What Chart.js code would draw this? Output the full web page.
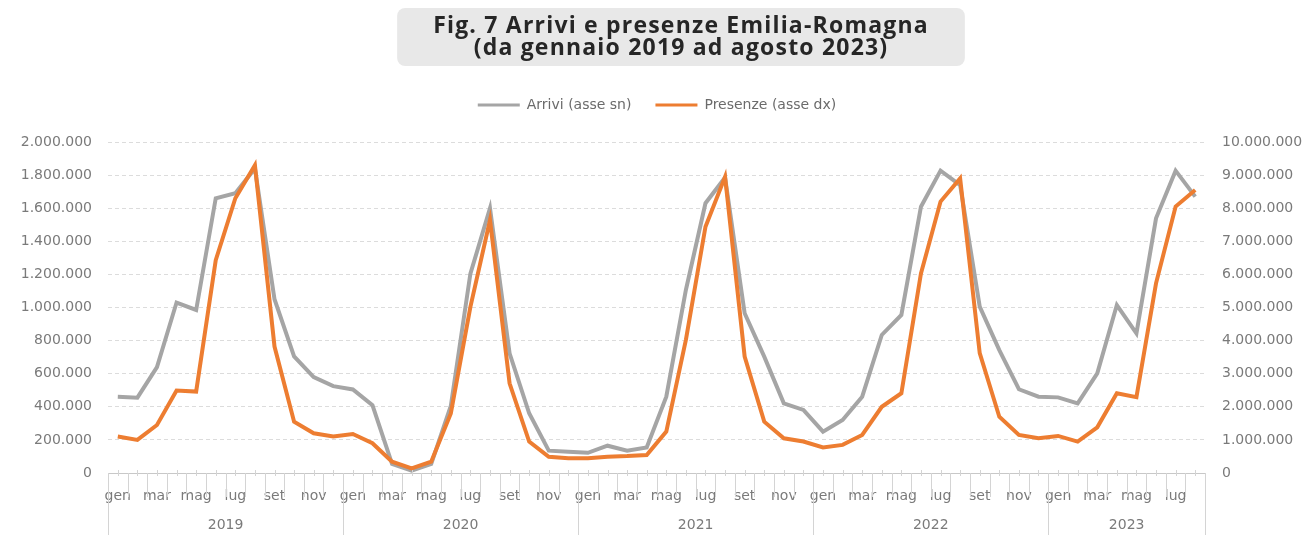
<!DOCTYPE html>
<html lang="it">
<head>
<meta charset="utf-8">
<title>Arrivi e presenze Emilia-Romagna</title>
<script src="https://cdn.jsdelivr.net/npm/chart.js@4/dist/chart.umd.min.js"></script>
<style>
  body { margin: 0; background: #fff; }
  #wrap { width: 1314px; height: 535px; position: relative; }
</style>
</head>
<body>
<div id="wrap"><canvas id="grafico"></canvas></div>
<script>
// dati (gen 2019 - ago 2023)
const titolo = ['Fig. 7 Arrivi e presenze Emilia-Romagna', '(da gennaio 2019 ad agosto 2023)'];
const mesi = ['gen', 'feb', 'mar', 'apr', 'mag', 'giu', 'lug', 'ago', 'set', 'ott', 'nov', 'dic'];
const anni = ['2019', '2020', '2021', '2022', '2023'];
const mesiPerAnno = [12, 12, 12, 12, 8];

const arrivi = [
  460000, 455000, 640000, 1030000, 985000, 1660000, 1690000, 1840000, 1050000, 705000, 580000, 525000,
  505000, 410000, 55000, 15000, 55000, 405000, 1205000, 1600000, 723000, 361000, 135000, 129000,
  122000, 165000, 135000, 155000, 461000, 1106000, 1630000, 1785000, 965000, 703000, 421000, 381000,
  250000, 320000, 461000, 834000, 955000, 1609000, 1827000, 1740000, 1005000, 743000, 506000, 461000,
  457000, 421000, 602000, 1015000, 844000, 1539000, 1827000, 1670000
];
const presenze = [
  1100000, 1000000, 1450000, 2490000, 2460000, 6430000, 8300000, 9300000, 3820000, 1550000, 1200000, 1100000,
  1180000, 900000, 340000, 140000, 340000, 1800000, 5020000, 7640000, 2710000, 950000, 490000, 445000,
  445000, 490000, 510000, 545000, 1250000, 4020000, 7440000, 8950000, 3520000, 1550000, 1050000, 950000,
  770000, 850000, 1150000, 2000000, 2410000, 6030000, 8200000, 8900000, 3620000, 1700000, 1150000, 1050000,
  1120000, 950000, 1380000, 2410000, 2290000, 5730000, 8050000, 8550000
];

const etichette = [];
mesiPerAnno.forEach(n => {
  for (let i = 0; i < n; i++) etichette.push(mesi[i]);
});

const fmt = v => String(v).replace(/\B(?=(\d{3})+(?!\d))/g, '.');

const FONT = 'DejaVu Sans';
const GRIGIO_TESTO = '#7a7a7a';

// titolo su due righe dentro al box grigio
const boxTitolo = {
  id: 'boxTitolo',
  afterLayout(chart) {
    // la legenda sta un po' più in alto rispetto all'area del grafico
    chart.legend.top -= 20;
    chart.legend.bottom -= 20;
  },
  beforeDraw(chart) {
    const ctx = chart.ctx;
    ctx.save();
    ctx.font = 'bold 23px "Open Sans"';
    ctx.letterSpacing = '1.2px';
    const w = Math.max(...titolo.map(t => ctx.measureText(t).width));
    const cx = chart.width / 2 + 24;
    ctx.fillStyle = '#e8e8e8';
    ctx.beginPath();
    ctx.roundRect(cx - w / 2 - 36, 8, w + 72, 58, 8);
    ctx.fill();
    ctx.fillStyle = '#262626';
    ctx.textAlign = 'center';
    ctx.textBaseline = 'middle';
    titolo.forEach((t, k) => ctx.fillText(t, cx, 26 + k * 22));
    ctx.restore();
  }
};

// asse categorie a due livelli (mesi / anni)
const asseAnni = {
  id: 'asseAnni',
  afterDraw(chart) {
    const ctx = chart.ctx;
    const area = chart.chartArea;
    const n = etichette.length;
    const step = (area.right - area.left) / n;
    const inizi = [0];
    mesiPerAnno.forEach((m, k) => inizi.push(inizi[k] + m));
    ctx.save();
    ctx.strokeStyle = '#d4d4d4';
    ctx.lineWidth = 1;
    for (let i = 0; i <= n; i++) {
      const x = Math.round(area.left + i * step) + 0.5;
      const fine = inizi.includes(i) ? chart.height : area.bottom + 24;
      ctx.beginPath();
      ctx.moveTo(x, area.bottom);
      ctx.lineTo(x, fine);
      ctx.stroke();
      if (i < n) {
        const xm = Math.round(area.left + (i + 0.5) * step) + 0.5;
        ctx.beginPath();
        ctx.moveTo(xm, area.bottom - 3);
        ctx.lineTo(xm, area.bottom + 3);
        ctx.stroke();
      }
    }
    ctx.fillStyle = GRIGIO_TESTO;
    ctx.font = '14px "' + FONT + '"';
    ctx.textAlign = 'center';
    ctx.textBaseline = 'middle';
    anni.forEach((a, k) => {
      const x = area.left + (inizi[k] + mesiPerAnno[k] / 2) * step;
      ctx.fillText(a, x, area.bottom + 52);
    });
    ctx.restore();
  }
};

new Chart(document.getElementById('grafico'), {
  type: 'line',
  data: {
    labels: etichette,
    datasets: [
      {
        label: 'Arrivi (asse sn)',
        data: arrivi,
        yAxisID: 'y',
        borderColor: '#a5a5a5',
        backgroundColor: '#a5a5a5',
        borderWidth: 4,
        pointRadius: 0,
        pointStyle: 'line',
        tension: 0,
        order: 1
      },
      {
        label: 'Presenze (asse dx)',
        data: presenze,
        yAxisID: 'y1',
        borderColor: '#ed7d31',
        backgroundColor: '#ed7d31',
        borderWidth: 4,
        pointRadius: 0,
        pointStyle: 'line',
        tension: 0,
        order: 0
      }
    ]
  },
  options: {
    responsive: true,
    maintainAspectRatio: false,
    animation: false,
    layout: { padding: { top: 70, bottom: 0, left: 0, right: 0 } },
    plugins: {
      title: { display: false },
      legend: {
        display: true,
        labels: {
          color: '#6b6b6b',
          font: { family: FONT, size: 14 },
          usePointStyle: true,
          pointStyleWidth: 42,
          boxHeight: 3,
          padding: 24,
          sort: (a, b) => a.datasetIndex - b.datasetIndex,
          generateLabels(chart) {
            const items = Chart.defaults.plugins.legend.labels.generateLabels(chart);
            items.forEach(it => { it.lineWidth = 3; });
            return items;
          }
        }
      },
      tooltip: { enabled: false }
    },
    scales: {
      x: {
        type: 'category',
        offset: true,
        grid: { display: false },
        border: { display: true, color: '#c8c8c8', width: 1 },
        ticks: {
          autoSkip: false,
          maxRotation: 0,
          padding: 7,
          color: GRIGIO_TESTO,
          font: { family: FONT, size: 14 },
          callback: (v, i) => (i % 2 === 0 ? etichette[i] : '')
        },
        afterFit(scale) { scale.height = 62; }
      },
      y: {
        position: 'left',
        min: 0,
        max: 2000000,
        grid: { color: '#dcdcdc', drawTicks: false },
        border: { display: false, dash: [4, 3] },
        ticks: {
          stepSize: 200000,
          padding: 16,
          color: GRIGIO_TESTO,
          font: { family: FONT, size: 14 },
          callback: v => fmt(v)
        },
        afterFit(scale) {
          scale.width = 108;
          scale.paddingTop = 142;
        }
      },
      y1: {
        position: 'right',
        min: 0,
        max: 10000000,
        grid: { drawOnChartArea: false, drawTicks: false },
        border: { display: false },
        ticks: {
          stepSize: 1000000,
          padding: 17,
          color: GRIGIO_TESTO,
          font: { family: FONT, size: 14 },
          callback: v => fmt(v)
        },
        afterFit(scale) { scale.width = 109; }
      }
    }
  },
  plugins: [boxTitolo, asseAnni]
});
</script>
</body>
</html>
